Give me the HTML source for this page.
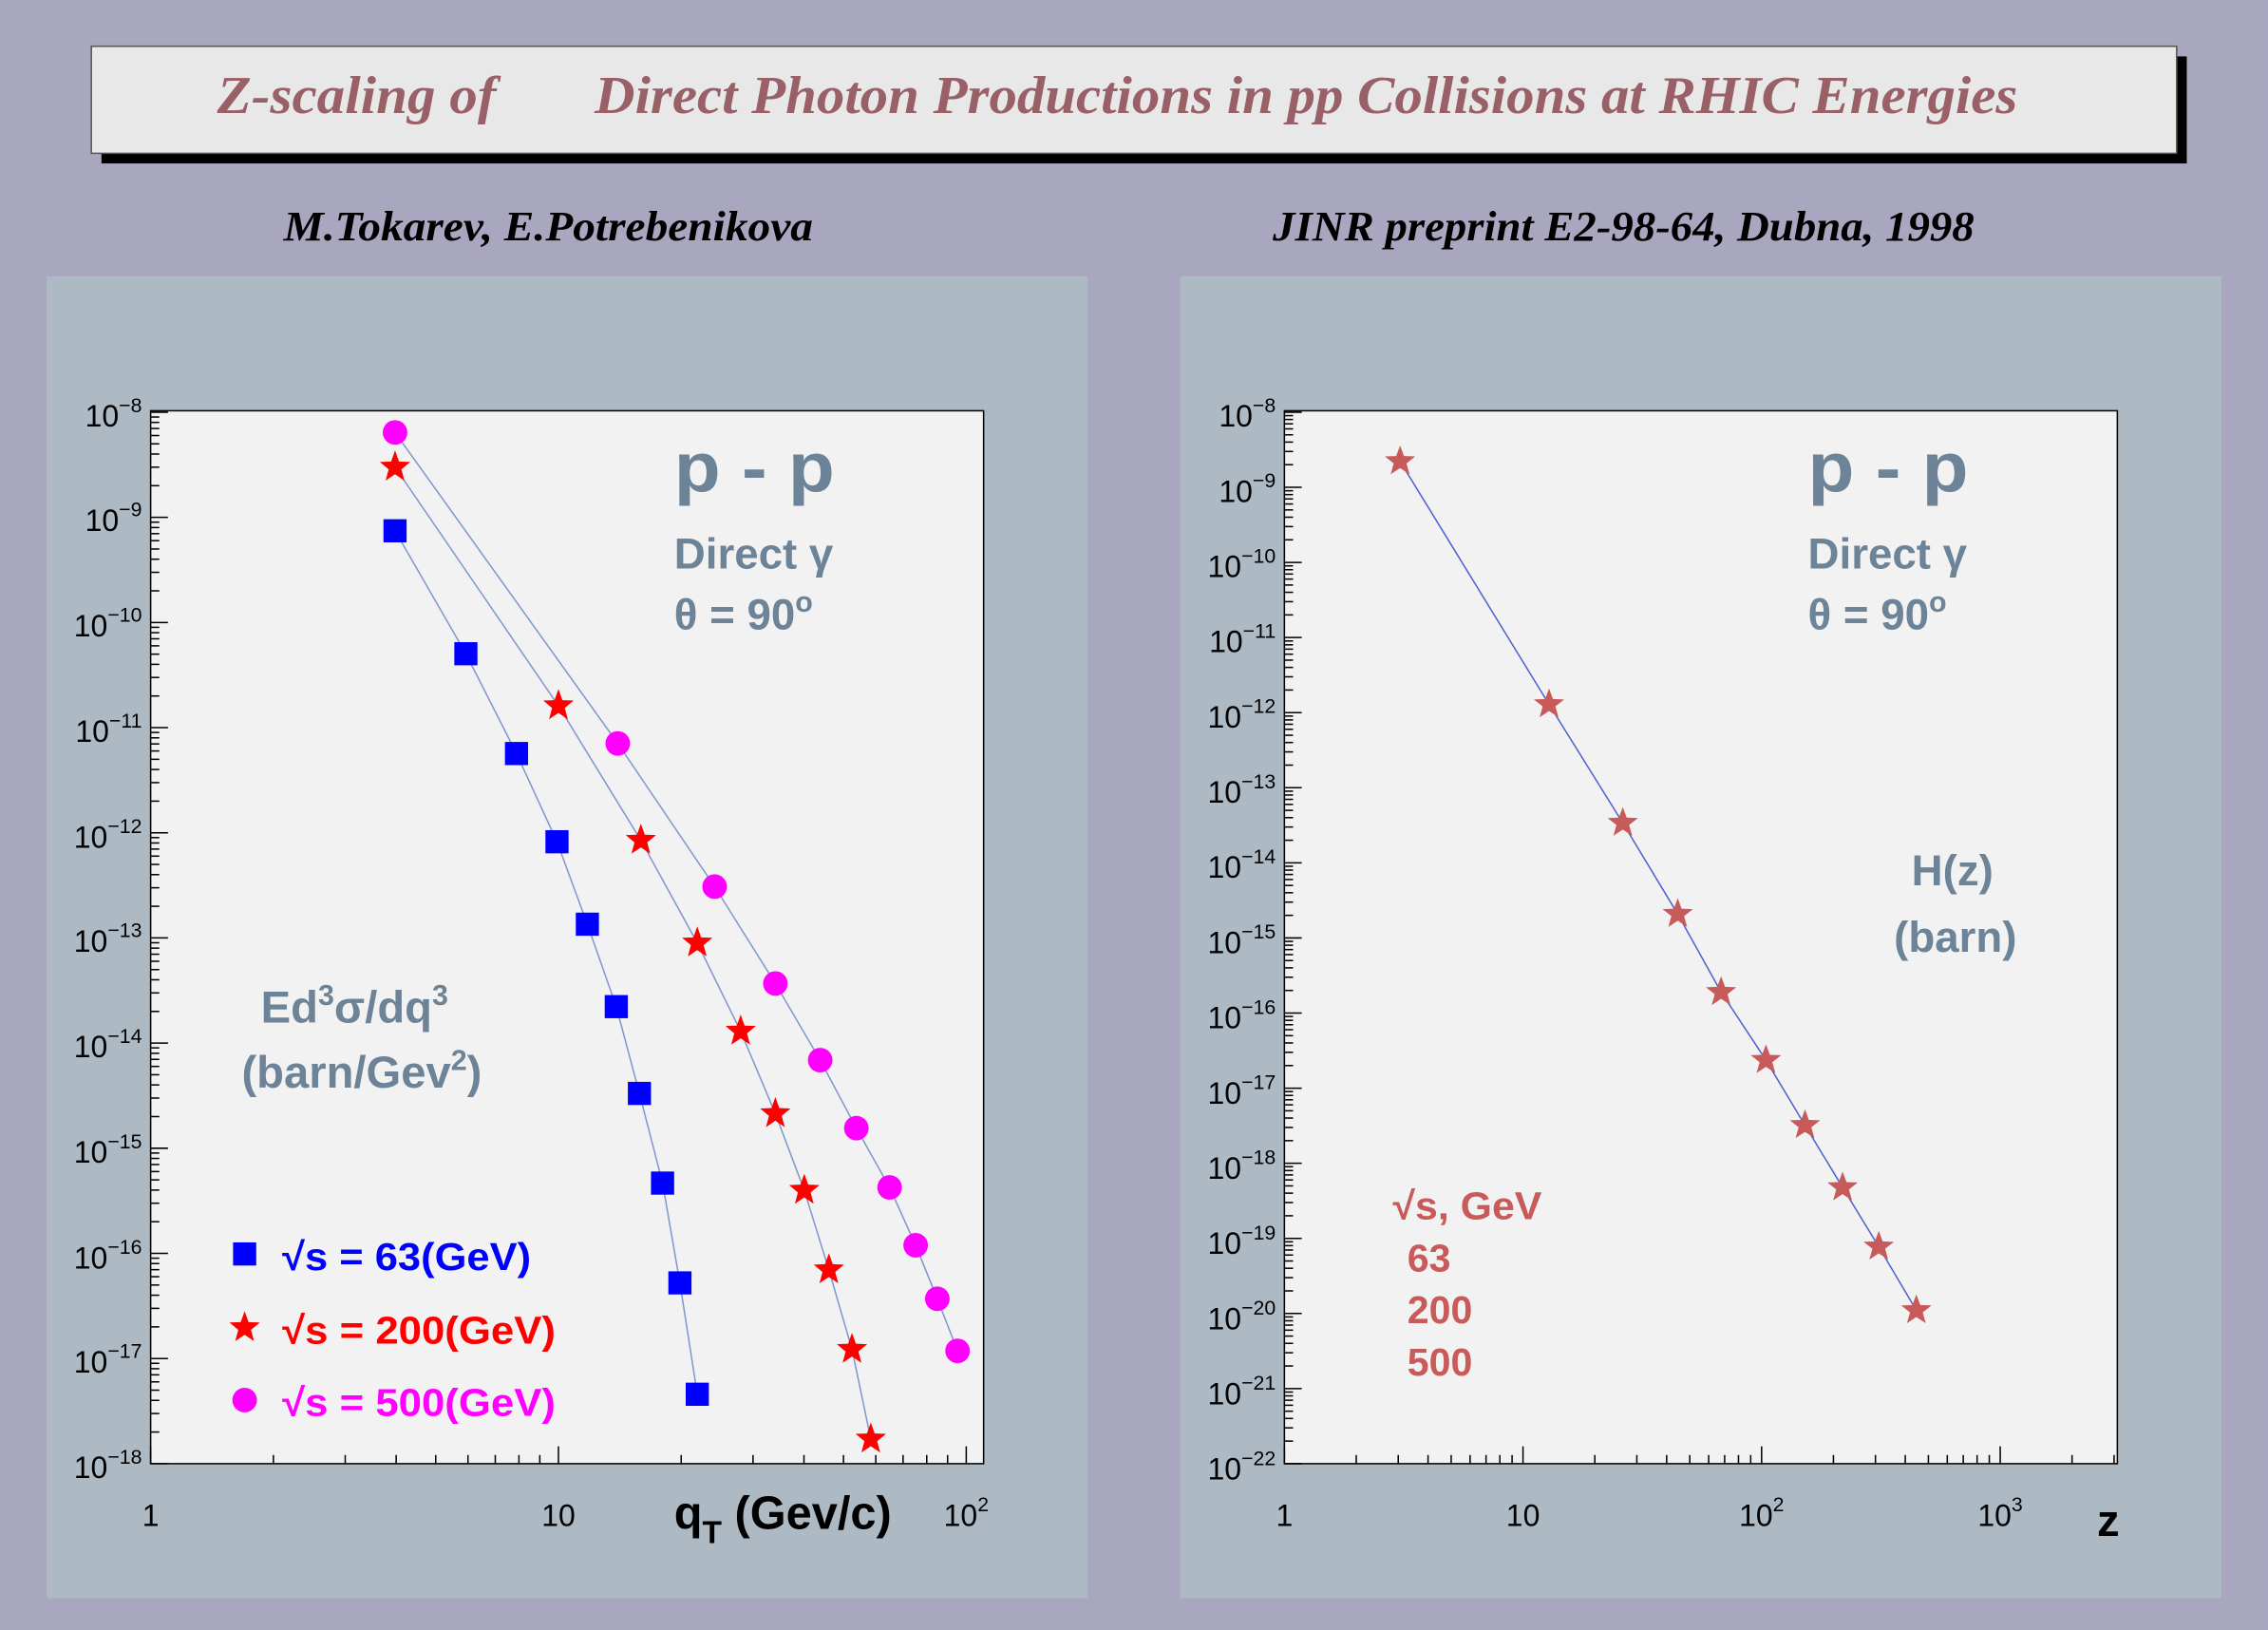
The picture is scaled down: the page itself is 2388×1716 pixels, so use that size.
<!DOCTYPE html>
<html><head><meta charset="utf-8"><style>
html,body{margin:0;padding:0;background:#a9a6c0}
svg{display:block}
text{font-family:"Liberation Sans",sans-serif}
.t{font-family:"Liberation Serif",serif;font-style:italic;font-weight:bold}
.lab{font-size:21px;fill:#000}
.ex{font-size:14px}
.st{fill:#6d8397;font-weight:bold}
</style></head><body>
<svg id="s" width="2388" height="1716" viewBox="0 0 1568 1127" xmlns="http://www.w3.org/2000/svg">
<rect width="1568" height="1127" fill="#a9a6c0"/>
<rect x="70" y="39" width="1442" height="74" fill="#000"/>
<rect x="63" y="32" width="1442" height="74" fill="#e8e8e8" stroke="#555" stroke-width="1"/>
<text class="t" x="150" y="78" font-size="37" fill="#9a6068" textLength="193" lengthAdjust="spacingAndGlyphs">Z-scaling of</text>
<text class="t" x="411" y="78" font-size="37" fill="#9a6068" textLength="984" lengthAdjust="spacingAndGlyphs">Direct Photon Productions in pp Collisions at RHIC Energies</text>
<text class="t" x="196" y="166" font-size="29" fill="#000" textLength="366" lengthAdjust="spacingAndGlyphs">M.Tokarev, E.Potrebenikova</text>
<text class="t" x="880" y="166" font-size="29" fill="#000" textLength="485" lengthAdjust="spacingAndGlyphs">JINR preprint E2-98-64, Dubna, 1998</text>

<rect x="32" y="191" width="720" height="914" fill="#adbac4"/>
<rect x="816" y="191" width="720" height="914" fill="#adbac4"/>
<rect x="104" y="284" width="576" height="728" fill="#f2f2f2" stroke="#000" stroke-width="1"/>
<rect x="888" y="284" width="576" height="728" fill="#f2f2f2" stroke="#000" stroke-width="1"/>
<g id="ticks" stroke="#000" stroke-width="1"></g>

<g class="lab" text-anchor="end">
<text x="98" y="295">10<tspan class="ex" dy="-10">−8</tspan></text>
<text x="98" y="367">10<tspan class="ex" dy="-10">−9</tspan></text>
<text x="98" y="440">10<tspan class="ex" dy="-10">−10</tspan></text>
<text x="98" y="513">10<tspan class="ex" dy="-10">−11</tspan></text>
<text x="98" y="586">10<tspan class="ex" dy="-10">−12</tspan></text>
<text x="98" y="658">10<tspan class="ex" dy="-10">−13</tspan></text>
<text x="98" y="731">10<tspan class="ex" dy="-10">−14</tspan></text>
<text x="98" y="804">10<tspan class="ex" dy="-10">−15</tspan></text>
<text x="98" y="877">10<tspan class="ex" dy="-10">−16</tspan></text>
<text x="98" y="949">10<tspan class="ex" dy="-10">−17</tspan></text>
<text x="98" y="1022">10<tspan class="ex" dy="-10">−18</tspan></text>
</g>
<g class="lab" text-anchor="middle">
<text x="104" y="1055">1</text>
<text x="386" y="1055">10</text>
<text x="668" y="1055">10<tspan class="ex" dy="-10">2</tspan></text>
<text x="888" y="1055">1</text>
<text x="1053" y="1055">10</text>
<text x="1218" y="1055">10<tspan class="ex" dy="-10">2</tspan></text>
<text x="1383" y="1055">10<tspan class="ex" dy="-10">3</tspan></text>
</g>
<g class="lab" text-anchor="end">
<text x="882" y="295">10<tspan class="ex" dy="-10">−8</tspan></text>
<text x="882" y="347">10<tspan class="ex" dy="-10">−9</tspan></text>
<text x="882" y="399">10<tspan class="ex" dy="-10">−10</tspan></text>
<text x="882" y="451">10<tspan class="ex" dy="-10">−11</tspan></text>
<text x="882" y="503">10<tspan class="ex" dy="-10">−12</tspan></text>
<text x="882" y="555">10<tspan class="ex" dy="-10">−13</tspan></text>
<text x="882" y="607">10<tspan class="ex" dy="-10">−14</tspan></text>
<text x="882" y="659">10<tspan class="ex" dy="-10">−15</tspan></text>
<text x="882" y="711">10<tspan class="ex" dy="-10">−16</tspan></text>
<text x="882" y="763">10<tspan class="ex" dy="-10">−17</tspan></text>
<text x="882" y="815">10<tspan class="ex" dy="-10">−18</tspan></text>
<text x="882" y="867">10<tspan class="ex" dy="-10">−19</tspan></text>
<text x="882" y="919">10<tspan class="ex" dy="-10">−20</tspan></text>
<text x="882" y="971">10<tspan class="ex" dy="-10">−21</tspan></text>
<text x="882" y="1023">10<tspan class="ex" dy="-10">−22</tspan></text>
</g>

<text x="466" y="1057" font-size="32" font-weight="bold">q<tspan font-size="22" dy="10">T</tspan><tspan dy="-10"> (Gev/c)</tspan></text>
<text x="1450" y="1062" font-size="31" font-weight="bold">z</text>

<g fill="none" stroke="#8096d0" stroke-width="1">
<polyline points="273,367 322,452 357,521 385,582 406,639 426,696 442,756 458,818 470,887 482,964"/>
<polyline points="273,323 386,488 443,581 482,652 512,713 536,770 556,823 573,878 589,933 602,995"/>
<polyline points="273,299 427,514 494,613 536,680 567,733 592,780 615,821 633,861 648,898 662,934"/>
<polyline stroke="#5060d0" points="968,319 1071,487 1122,569 1160,632 1190,686 1221,733 1248,778 1274,821 1299,862 1325,906"/>
</g>
<g id="mk"></g>

<text class="st" x="466" y="340" font-size="48" textLength="111" lengthAdjust="spacingAndGlyphs">p - p</text>
<text class="st" x="466" y="393" font-size="30">Direct γ</text>
<text class="st" x="466" y="435" font-size="30">θ = 90<tspan font-size="20" dy="-12">o</tspan></text>
<text class="st" x="1250" y="340" font-size="48" textLength="111" lengthAdjust="spacingAndGlyphs">p - p</text>
<text class="st" x="1250" y="393" font-size="30">Direct γ</text>
<text class="st" x="1250" y="435" font-size="30">θ = 90<tspan font-size="20" dy="-12">o</tspan></text>
<text class="st" x="245" y="707" font-size="31" text-anchor="middle">Ed<tspan font-size="20" dy="-12">3</tspan><tspan dy="12">σ/dq</tspan><tspan font-size="20" dy="-12">3</tspan></text>
<text class="st" x="250" y="752" font-size="31" text-anchor="middle">(barn/Gev<tspan font-size="20" dy="-12">2</tspan><tspan dy="12">)</tspan></text>
<text class="st" x="1350" y="612" font-size="30" text-anchor="middle">H(z)</text>
<text class="st" x="1352" y="658" font-size="30" text-anchor="middle">(barn)</text>

<g font-size="27" font-weight="bold">
<text x="195" y="878" fill="#0000ff" textLength="172" lengthAdjust="spacingAndGlyphs">√s = 63(GeV)</text>
<text x="195" y="929" fill="#ff0000" textLength="189" lengthAdjust="spacingAndGlyphs">√s = 200(GeV)</text>
<text x="195" y="979" fill="#ff00ff" textLength="189" lengthAdjust="spacingAndGlyphs">√s = 500(GeV)</text>
</g>
<g font-size="27" font-weight="bold" fill="#c85a5a">
<text x="963" y="843" textLength="103" lengthAdjust="spacingAndGlyphs">√s, GeV</text>
<text x="973" y="879">63</text>
<text x="973" y="915">200</text>
<text x="973" y="951">500</text>
</g>
</svg>
<script>
var NS="http://www.w3.org/2000/svg",T=document.getElementById("ticks"),M=document.getElementById("mk");
function ln(x1,y1,x2,y2){var l=document.createElementNS(NS,"line");l.setAttribute("x1",x1);l.setAttribute("y1",y1);l.setAttribute("x2",x2);l.setAttribute("y2",y2);T.appendChild(l);}
function yt(x0,y0,d,n){for(var k=0;k<n;k++){var yb=y0+d*k;ln(x0,yb,x0+12,yb);if(k<n-1)for(var m=2;m<=9;m++){var y=yb+d-d*Math.log10(m);ln(x0,y,x0+6,y);}}}
yt(104,285,72.7,11);yt(888,285,51.93,15);
function xt(x0,d,xmax){for(var k=0;;k++){var xb=x0+d*k;if(xb>xmax)break;ln(xb,1012,xb,1000);for(var m=2;m<=9;m++){var x=xb+d*Math.log10(m);if(x<xmax)ln(x,1012,x,1006);}}}
xt(104,282,680);xt(888,165,1464);
function el(t,a){var e=document.createElementNS(NS,t);for(var k in a)e.setAttribute(k,a[k]);M.appendChild(e);}
function star(x,y,r,c,sy){var p=[];for(var i=0;i<10;i++){var a=-Math.PI/2+i*Math.PI/5,rr=i%2?r*0.42:r;p.push((x+rr*Math.cos(a)).toFixed(1)+","+(y+rr*Math.sin(a)*sy).toFixed(1));}el("polygon",{points:p.join(" "),fill:c});}
var B=[[273,367],[322,452],[357,521],[385,582],[406,639],[426,696],[442,756],[458,818],[470,887],[482,964]];
B.forEach(function(p){el("rect",{x:p[0]-8,y:p[1]-8,width:16,height:16,fill:"#0000ff"});});
var R=[[273,323],[386,488],[443,581],[482,652],[512,713],[536,770],[556,823],[573,878],[589,933],[602,995]];
R.forEach(function(p){star(p[0],p[1],11,"#ff0000",1.05);});
var C=[[273,299],[427,514],[494,613],[536,680],[567,733],[592,780],[615,821],[633,861],[648,898],[662,934]];
C.forEach(function(p){el("circle",{cx:p[0],cy:p[1],r:8.5,fill:"#ff00ff"});});
var Z=[[968,319],[1071,487],[1122,569],[1160,632],[1190,686],[1221,733],[1248,778],[1274,821],[1299,862],[1325,906]];
Z.forEach(function(p){star(p[0],p[1],11,"#c85a5a",1);});
el("rect",{x:161,y:859,width:16,height:16,fill:"#0000ff"});
star(169,918,11,"#ff0000",1.05);
el("circle",{cx:169,cy:968,r:8.5,fill:"#ff00ff"});
</script>
</body></html>
